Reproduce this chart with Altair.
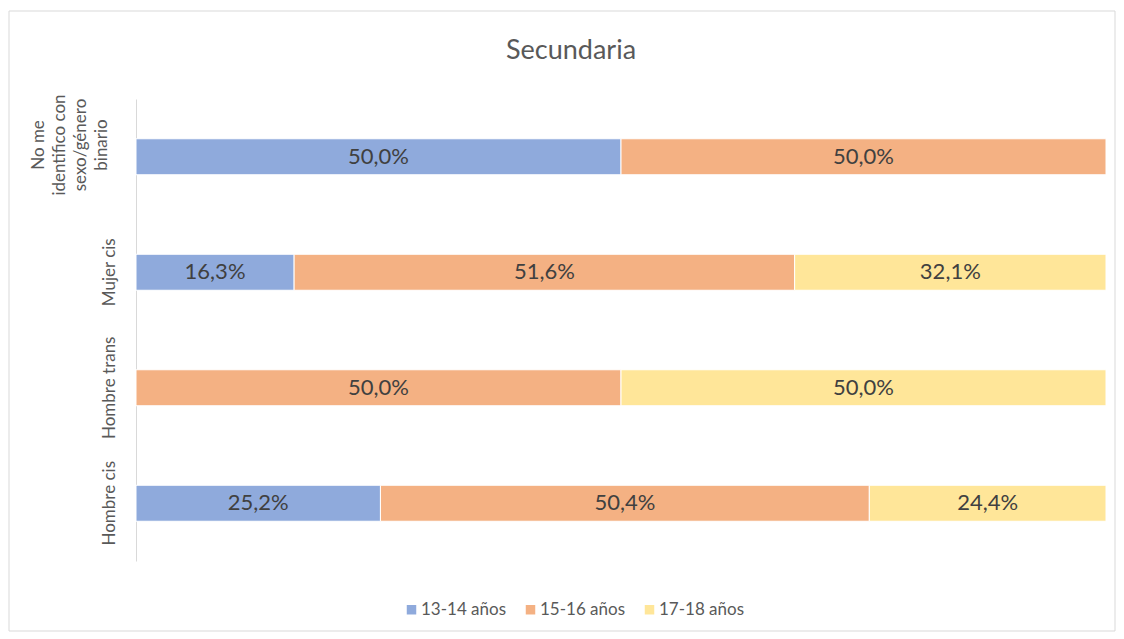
import altair as alt
import pandas as pd

categories = [
    "No me identifico con sexo/género binario",
    "Mujer cis",
    "Hombre trans",
    "Hombre cis",
]
long_label_lines = ["No me", "identifico con", "sexo/género", "binario"]
age_groups = ["13-14 años", "15-16 años", "17-18 años"]
v_13_14 = [50.0, 16.3, 0.0, 25.2]
v_15_16 = [50.0, 51.6, 50.0, 50.4]
v_17_18 = [0.0, 32.1, 50.0, 24.4]
colors = ["#8FAADC", "#F4B183", "#FFE699"]
title_text = "Secundaria"

rows = []
for i, cat in enumerate(categories):
    for g, vals in zip(age_groups, [v_13_14, v_15_16, v_17_18]):
        rows.append({"cat": cat, "grupo": g, "orden": age_groups.index(g), "valor": vals[i]})
df = pd.DataFrame(rows)
df = df[df["valor"] > 0]

FONT = "Lato"
W, H = 970, 462

label_expr = "datum.label == '%s' ? '' : datum.label" % categories[0]

base = alt.Chart(df).transform_stack(
    stack="valor", groupby=["cat"], as_=["x0", "x1"], sort=[alt.SortField("orden", order="ascending")]
).transform_calculate(
    mid="(datum.x0 + datum.x1) / 2",
    etiqueta="replace(format(datum.valor, '.1f'), '.', ',') + '%'",
)

y_enc = alt.Y(
    "cat:N",
    sort=categories,
    scale=alt.Scale(paddingInner=0, paddingOuter=0),
    axis=alt.Axis(
        title=None,
        labelAngle=270,
        labelAlign="center",
        labelBaseline="bottom",
        labelFont=FONT,
        labelFontSize=17,
        labelColor="#595959",
        labelPadding=18,
        labelLimit=400,
        labelExpr=label_expr,
        ticks=False,
        grid=False,
        domainColor="#D9D9D9",
        domainWidth=1,
    ),
)

bars = base.mark_bar(size=36, stroke="white", strokeWidth=1).encode(
    y=y_enc,
    x=alt.X("x0:Q", scale=alt.Scale(domain=[0, 100], nice=False, zero=True), axis=None),
    x2="x1:Q",
    color=alt.Color(
        "grupo:N",
        scale=alt.Scale(domain=age_groups, range=colors),
        legend=alt.Legend(
            title=None,
            orient="none",
            legendX=267,
            legendY=502,
            direction="horizontal",
            symbolType="square",
            symbolSize=90,
            symbolStrokeWidth=0,
            labelFont=FONT,
            labelFontSize=17,
            labelColor="#595959",
            labelOffset=1,
            columnPadding=15,
        ),
    ),
)

texts = base.mark_text(font=FONT, fontSize=22, color="#404040", baseline="middle").encode(
    y=alt.Y("cat:N", sort=categories),
    x=alt.X("mid:Q"),
    text="etiqueta:N",
)

long_label = alt.Chart(pd.DataFrame({"t": [long_label_lines]})).mark_text(
    font=FONT, fontSize=17, color="#595959", angle=270, align="center",
    baseline="bottom", lineHeight=21
).encode(
    x=alt.value(-88), y=alt.value(46), text="t"
)

frame = alt.Chart(pd.DataFrame({"k": [0]})).mark_rect(
    fill=None, stroke="#D9D9D9", strokeWidth=1
).encode(
    x=alt.value(-127), x2=alt.value(979), y=alt.value(-88), y2=alt.value(532)
)

title = alt.Chart(pd.DataFrame({"t": [title_text]})).mark_text(
    font=FONT, fontSize=27, color="#595959", align="center", baseline="middle"
).encode(
    x=alt.value(435), y=alt.value(-48), text="t:N"
)

chart = alt.layer(frame, bars, texts, long_label, title).properties(
    width=W, height=H,
    padding={"left": 0, "top": 2, "right": 0, "bottom": 0},
    background="white",
).configure_view(stroke=None)

chart.save("out.html", embed_options={"renderer": "svg", "actions": False})
